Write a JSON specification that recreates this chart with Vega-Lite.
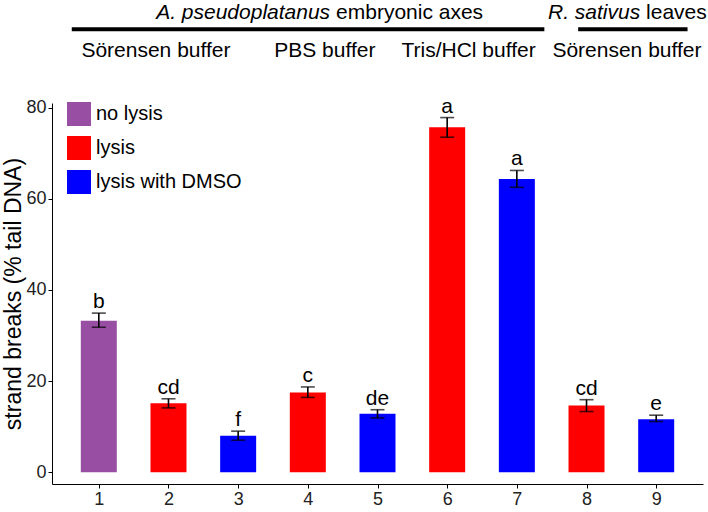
{
  "$schema": "https://vega.github.io/schema/vega-lite/v6.json",
  "autosize": {"type": "none"},
  "padding": {"left": 52, "top": 103, "right": 5, "bottom": 28},
  "width": 651,
  "height": 381,
  "background": "white",
  "config": {
    "font": "Liberation Sans",
    "view": {"stroke": null},
    "axis": {"grid": false, "domainColor": "#000000", "tickColor": "#000000", "labelColor": "#222222", "titleColor": "#000000", "labelFont": "Liberation Sans", "titleFont": "Liberation Sans"}
  },
  "datasets": {
    "bars": [
      {"sample": 1, "mean": 33.2, "lo": 31.8, "hi": 34.9, "group": "b", "treatment": "no lysis"},
      {"sample": 2, "mean": 15.1, "lo": 14.1, "hi": 16.1, "group": "cd", "treatment": "lysis"},
      {"sample": 3, "mean": 8.0, "lo": 7.0, "hi": 9.0, "group": "f", "treatment": "lysis with DMSO"},
      {"sample": 4, "mean": 17.5, "lo": 16.4, "hi": 18.7, "group": "c", "treatment": "lysis"},
      {"sample": 5, "mean": 12.8, "lo": 11.9, "hi": 13.7, "group": "de", "treatment": "lysis with DMSO"},
      {"sample": 6, "mean": 75.7, "lo": 73.5, "hi": 77.8, "group": "a", "treatment": "lysis"},
      {"sample": 7, "mean": 64.3, "lo": 62.5, "hi": 66.2, "group": "a", "treatment": "lysis with DMSO"},
      {"sample": 8, "mean": 14.6, "lo": 13.3, "hi": 15.9, "group": "cd", "treatment": "lysis"},
      {"sample": 9, "mean": 11.6, "lo": 11.1, "hi": 12.5, "group": "e", "treatment": "lysis with DMSO"}
    ],
    "headItalic": [
      {"x": 4.32, "y": 99.4, "label": "A. pseudoplatanus"},
      {"x": 8.77, "y": 99.4, "label": "R. sativus"}
    ],
    "headPlain": [
      {"x": 4.405, "y": 99.4, "label": "embryonic axes"},
      {"x": 8.855, "y": 99.4, "label": "leaves"}
    ],
    "subheads": [
      {"x": 1.82, "y": 91.1, "label": "Sörensen buffer"},
      {"x": 4.244, "y": 91.1, "label": "PBS buffer"},
      {"x": 6.307, "y": 91.1, "label": "Tris/HCl buffer"},
      {"x": 8.58, "y": 91.1, "label": "Sörensen buffer"}
    ],
    "brackets": [
      {"x": 0.612, "x2": 7.395, "y": 97.2},
      {"x": 7.88, "x2": 9.45, "y": 97.2}
    ]
  },
  "layer": [
    {
      "data": {"name": "bars"},
      "mark": {"type": "bar", "size": 36},
      "encoding": {
        "x": {"field": "sample", "type": "quantitative", "scale": {"domain": [0.4, 9.6], "nice": false, "zero": false},
              "axis": {"values": [1, 2, 3, 4, 5, 6, 7, 8, 9], "format": "d", "title": null, "labelFontSize": 18, "tickSize": 4, "labelPadding": 2}},
        "y": {"field": "mean", "type": "quantitative", "scale": {"domain": [-2.6, 81], "nice": false, "zero": false},
              "axis": {"values": [0, 20, 40, 60, 80], "title": "strand breaks (% tail DNA)", "titleFontSize": 23, "titleFontWeight": "normal", "labelFontSize": 18, "tickSize": 4, "labelPadding": 2, "titlePadding": 0}},
        "y2": {"datum": 0},
        "color": {"field": "treatment", "type": "nominal",
                  "scale": {"domain": ["no lysis", "lysis", "lysis with DMSO"], "range": ["#984ea3", "#ff0000", "#0000ff"]},
                  "legend": {"title": null, "orient": "none", "legendX": 15, "legendY": -1, "symbolType": "square", "symbolSize": 576, "symbolStrokeWidth": 0, "symbolOpacity": 1, "labelFontSize": 20, "labelColor": "#000000", "labelOffset": 5, "rowPadding": 10, "padding": 0}}
      }
    },
    {
      "data": {"name": "bars"},
      "mark": {"type": "rule", "color": "#000000", "strokeWidth": 1.6},
      "encoding": {
        "x": {"field": "sample", "type": "quantitative"},
        "y": {"field": "lo", "type": "quantitative"},
        "y2": {"field": "hi"}
      }
    },
    {
      "data": {"name": "bars"},
      "mark": {"type": "tick", "orient": "horizontal", "color": "#000000", "size": 14, "thickness": 1.6},
      "encoding": {
        "x": {"field": "sample", "type": "quantitative"},
        "y": {"field": "lo", "type": "quantitative"}
      }
    },
    {
      "data": {"name": "bars"},
      "mark": {"type": "tick", "orient": "horizontal", "color": "#000000", "size": 14, "thickness": 1.6},
      "encoding": {
        "x": {"field": "sample", "type": "quantitative"},
        "y": {"field": "hi", "type": "quantitative"}
      }
    },
    {
      "data": {"name": "bars"},
      "mark": {"type": "text", "fontSize": 21, "baseline": "alphabetic", "dy": -5, "color": "#000000"},
      "encoding": {
        "x": {"field": "sample", "type": "quantitative"},
        "y": {"field": "hi", "type": "quantitative"},
        "text": {"field": "group"}
      }
    },
    {
      "data": {"name": "brackets"},
      "mark": {"type": "rule", "color": "#000000", "strokeWidth": 4},
      "encoding": {
        "x": {"field": "x", "type": "quantitative"},
        "x2": {"field": "x2"},
        "y": {"field": "y", "type": "quantitative"}
      }
    },
    {
      "data": {"name": "headItalic"},
      "mark": {"type": "text", "fontSize": 21, "fontStyle": "italic", "align": "right", "baseline": "alphabetic", "color": "#000000"},
      "encoding": {
        "x": {"field": "x", "type": "quantitative"},
        "y": {"field": "y", "type": "quantitative"},
        "text": {"field": "label"}
      }
    },
    {
      "data": {"name": "headPlain"},
      "mark": {"type": "text", "fontSize": 21, "align": "left", "baseline": "alphabetic", "color": "#000000"},
      "encoding": {
        "x": {"field": "x", "type": "quantitative"},
        "y": {"field": "y", "type": "quantitative"},
        "text": {"field": "label"}
      }
    },
    {
      "data": {"name": "subheads"},
      "mark": {"type": "text", "fontSize": 21, "align": "center", "baseline": "alphabetic", "color": "#000000"},
      "encoding": {
        "x": {"field": "x", "type": "quantitative"},
        "y": {"field": "y", "type": "quantitative"},
        "text": {"field": "label"}
      }
    }
  ]
}
